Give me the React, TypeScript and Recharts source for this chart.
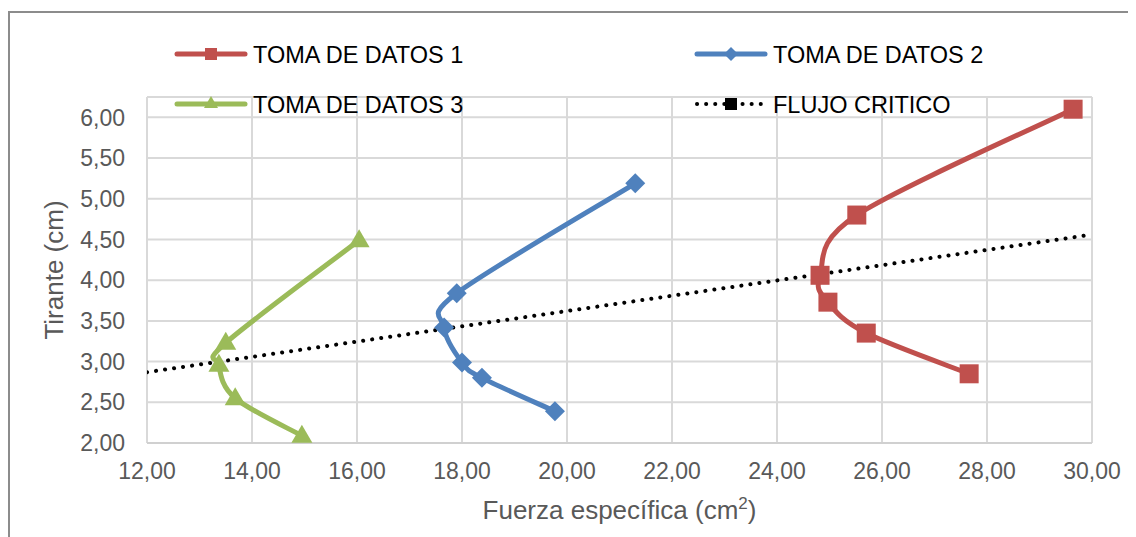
import React from 'react';
import {
  ScatterChart,
  Scatter,
  XAxis,
  YAxis,
  CartesianGrid,
  Legend,
  Label,
} from 'recharts';

// Fuerza específica (cm2) vs tirante (cm), ordered by tirante
const fuerza1 = [27.66, 25.7, 24.97, 24.82, 25.52, 29.64];
const tirante1 = [2.85, 3.35, 3.73, 4.06, 4.8, 6.1];

const fuerza2 = [19.77, 18.38, 18.0, 17.66, 17.9, 21.3];
const tirante2 = [2.39, 2.8, 2.99, 3.42, 3.84, 5.19];

const fuerza3 = [14.95, 13.68, 13.37, 13.5, 16.04];
const tirante3 = [2.09, 2.55, 2.96, 3.23, 4.49];

const fuerzaCritico = [12, 30];
const tiranteCritico = [2.87, 4.56];

const xTicks = [12, 14, 16, 18, 20, 22, 24, 26, 28, 30];
const yTicks = [2, 2.5, 3, 3.5, 4, 4.5, 5, 5.5, 6];

const RED = '#C0504D';
const BLUE = '#4F81BD';
const GREEN = '#9BBB59';
const FONT = '"Liberation Sans", Arial, sans-serif';

const toPoints = (xs: number[], ys: number[]) => xs.map((x, i) => ({ x, y: ys[i] }));

const fmt = (v: number) => v.toFixed(2).replace('.', ',');

// Excel-like smoothed line (Catmull-Rom as cubic Bezier)
const excelSmooth = (context: any) => {
  let pts: number[][] = [];
  return {
    areaStart() {},
    areaEnd() {},
    lineStart() {
      pts = [];
    },
    point(x: number, y: number) {
      pts.push([+x, +y]);
    },
    lineEnd() {
      if (!pts.length) return;
      context.moveTo(pts[0][0], pts[0][1]);
      for (let i = 0; i < pts.length - 1; i++) {
        const p0 = pts[i - 1] || pts[i];
        const p1 = pts[i];
        const p2 = pts[i + 1];
        const p3 = pts[i + 2] || pts[i + 1];
        context.bezierCurveTo(
          p1[0] + (p2[0] - p0[0]) / 6,
          p1[1] + (p2[1] - p0[1]) / 6,
          p2[0] - (p3[0] - p1[0]) / 6,
          p2[1] - (p3[1] - p1[1]) / 6,
          p2[0],
          p2[1],
        );
      }
    },
  };
};

const Square = ({ cx, cy }: any) => (
  <rect x={cx - 9.5} y={cy - 9.5} width={19} height={19} fill={RED} />
);
const Diamond = ({ cx, cy }: any) => (
  <polygon points={`${cx},${cy - 10} ${cx + 10},${cy} ${cx},${cy + 10} ${cx - 10},${cy}`} fill={BLUE} />
);
const Triangle = ({ cx, cy }: any) => (
  <polygon points={`${cx},${cy - 11} ${cx + 10.5},${cy + 7} ${cx - 10.5},${cy + 7}`} fill={GREEN} />
);
const NoDot = () => <g />;

const LegendBox = () => {
  const rows = [
    { name: 'TOMA DE DATOS 1', color: RED, x: 167, y: 46, marker: 'square' },
    { name: 'TOMA DE DATOS 2', color: BLUE, x: 687, y: 46, marker: 'diamond' },
    { name: 'TOMA DE DATOS 3', color: GREEN, x: 167, y: 96, marker: 'triangle' },
    { name: 'FLUJO CRITICO', color: '#000', x: 687, y: 96, marker: 'dots' },
  ];
  return (
    <svg width={1128} height={120} style={{ display: 'block' }}>
      {rows.map((r) => {
        const mx = r.x + 36;
        return (
          <g key={r.name}>
            {r.marker === 'dots' ? (
              <line x1={r.x + 2} y1={r.y} x2={r.x + 70} y2={r.y} stroke="#000" strokeWidth={4} strokeDasharray="0.1 9" strokeLinecap="round" />
            ) : (
              <line x1={r.x + 2} y1={r.y} x2={r.x + 70} y2={r.y} stroke={r.color} strokeWidth={5} strokeLinecap="round" />
            )}
            {r.marker === 'square' && <rect x={mx - 6} y={r.y - 6} width={12} height={12} fill={r.color} />}
            {r.marker === 'dots' && <rect x={mx - 6} y={r.y - 6} width={12} height={12} fill="#000" />}
            {r.marker === 'diamond' && (
              <polygon points={`${mx},${r.y - 7} ${mx + 7},${r.y} ${mx},${r.y + 7} ${mx - 7},${r.y}`} fill={r.color} />
            )}
            {r.marker === 'triangle' && (
              <polygon points={`${mx},${r.y - 8} ${mx + 7},${r.y + 4} ${mx - 7},${r.y + 4}`} fill={r.color} />
            )}
            <text x={r.x + 78} y={r.y + 8.5} fontSize={23.5} fill="#000" fontFamily={FONT}>
              {r.name}
            </text>
          </g>
        );
      })}
    </svg>
  );
};

const XTitle = (props: any) => {
  const vb = props.viewBox || { x: 139, y: 435, width: 945, height: 30 };
  return (
    <text x={vb.x + vb.width / 2} y={511} textAnchor="middle" fontSize={26} fill="#595959" fontFamily={FONT}>
      <tspan>Fuerza específica (cm</tspan>
      <tspan fontSize={17} dy={-10}>2</tspan>
      <tspan dy={10}>)</tspan>
    </text>
  );
};

const YTitle = (props: any) => {
  const vb = props.viewBox || { x: 59, y: 89, width: 80, height: 346 };
  const cy = vb.y + vb.height / 2;
  return (
    <text x={55} y={cy} textAnchor="middle" fontSize={26} fill="#595959" fontFamily={FONT} transform={`rotate(-90, 55, ${cy})`}>
      Tirante (cm)
    </text>
  );
};

export default function App() {
  return (
    <div style={{ position: 'relative', width: 1128, height: 529, overflow: 'hidden', background: '#fff' }}>
      <div
        style={{
          position: 'absolute',
          left: 0,
          top: 3,
          width: 1128,
          height: 526,
          borderTop: '2px solid #8c8c8c',
          borderLeft: '2px solid #8c8c8c',
          boxSizing: 'border-box',
        }}
      />
      <ScatterChart width={1128} height={529} margin={{ top: 89, right: 44, bottom: 64, left: 59 }}>
        <CartesianGrid stroke="#d9d9d9" strokeWidth={2} />
        <XAxis
          type="number"
          dataKey="x"
          domain={[12, 30]}
          ticks={xTicks}
          tickFormatter={fmt}
          height={30}
          tickSize={0}
          tickMargin={20}
          axisLine={{ stroke: '#d0d0d0', strokeWidth: 2 }}
          tickLine={false}
          tick={{ fontSize: 23, fill: '#595959', fontFamily: FONT }}
          allowDataOverflow
        >
          <Label content={<XTitle />} />
        </XAxis>
        <YAxis
          type="number"
          dataKey="y"
          domain={[2, 6.25]}
          ticks={yTicks}
          tickFormatter={fmt}
          width={80}
          tickSize={0}
          tickMargin={22}
          axisLine={false}
          tickLine={false}
          tick={{ fontSize: 23, fill: '#595959', fontFamily: FONT }}
          allowDataOverflow
        >
          <Label content={<YTitle />} />
        </YAxis>
        <Legend
          layout="vertical"
          verticalAlign="middle"
          align="center"
          content={<LegendBox />}
          wrapperStyle={{ position: 'absolute', top: 0, left: 0, width: 1128, height: 120 }}
        />
        <Scatter
          name="FLUJO CRITICO"
          data={toPoints(fuerzaCritico, tiranteCritico)}
          line={{ stroke: '#000', strokeWidth: 4, strokeDasharray: '0.1 9', strokeLinecap: 'round' }}
          lineType="joint"
          shape={<NoDot />}
          isAnimationActive={false}
        />
        <Scatter
          name="TOMA DE DATOS 3"
          data={toPoints(fuerza3, tirante3)}
          line={{ stroke: GREEN, strokeWidth: 5 }}
          lineType="joint"
          lineJointType={excelSmooth as any}
          shape={<Triangle />}
          isAnimationActive={false}
        />
        <Scatter
          name="TOMA DE DATOS 2"
          data={toPoints(fuerza2, tirante2)}
          line={{ stroke: BLUE, strokeWidth: 5 }}
          lineType="joint"
          lineJointType={excelSmooth as any}
          shape={<Diamond />}
          isAnimationActive={false}
        />
        <Scatter
          name="TOMA DE DATOS 1"
          data={toPoints(fuerza1, tirante1)}
          line={{ stroke: RED, strokeWidth: 5 }}
          lineType="joint"
          lineJointType={excelSmooth as any}
          shape={<Square />}
          isAnimationActive={false}
        />
      </ScatterChart>
    </div>
  );
}
